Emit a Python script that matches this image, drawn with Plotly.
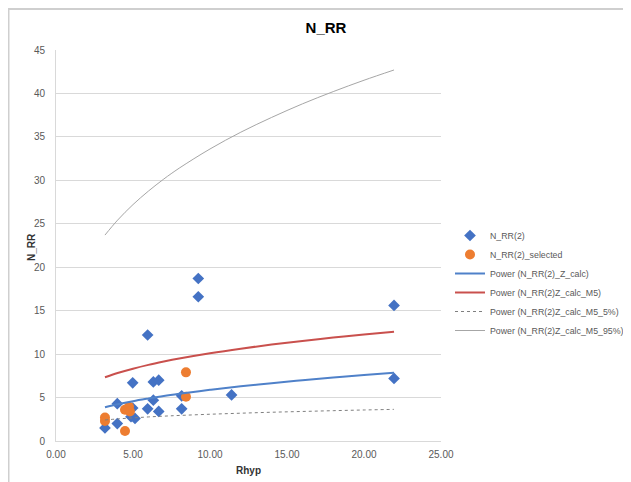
import plotly.graph_objects as go

# Scatter data
rhyp_all = [3.18, 3.98, 3.98, 4.98, 5.95, 4.98, 4.87, 5.13, 5.95, 6.32, 6.32, 6.67, 6.67, 8.16, 8.16, 9.24, 9.24, 11.4, 21.95, 21.95]
nrr_all = [1.5, 2.0, 4.3, 6.7, 12.2, 3.8, 2.8, 2.6, 3.7, 4.7, 6.8, 7.0, 3.4, 3.7, 5.2, 18.7, 16.6, 5.3, 15.6, 7.2]

rhyp_sel = [3.18, 3.18, 4.48, 4.74, 4.8, 4.48, 8.44, 8.44]
nrr_sel = [2.7, 2.3, 3.6, 3.95, 3.4, 1.15, 7.9, 5.1]

# Trend curves
trend_x = [3.18, 4, 5, 6, 7, 8, 10, 12, 14, 16, 18, 20, 21.95]
trend_zcalc = [3.88, 4.22, 4.58, 4.89, 5.18, 5.43, 5.89, 6.30, 6.66, 7.00, 7.30, 7.59, 7.86]
trend_m5 = [7.33, 7.82, 8.32, 8.76, 9.14, 9.49, 10.10, 10.63, 11.10, 11.52, 11.91, 12.27, 12.58]
trend_m5_5 = [2.42, 2.54, 2.66, 2.77, 2.86, 2.94, 3.08, 3.20, 3.31, 3.40, 3.49, 3.57, 3.64]
trend_m5_95 = [23.7, 25.42, 27.21, 28.76, 30.15, 31.40, 33.61, 35.54, 37.24, 38.80, 40.21, 41.52, 42.7]

x_ticks = [0, 5, 10, 15, 20, 25]
x_tick_labels = ["0.00", "5.00", "10.00", "15.00", "20.00", "25.00"]
y_ticks = [0, 5, 10, 15, 20, 25, 30, 35, 40, 45]

FONT = "Liberation Sans, Arial, sans-serif"
TXT = "#595959"

W, H = 623, 474
L, R, T, B = 48, 190, 42, 41
PW, PH = W - L - R, H - T - B


def px(xf):
    return (xf - L) / PW


def py(yf):
    return (H - B - yf) / PH


fig = go.Figure()
fig.add_trace(go.Scatter(x=rhyp_all, y=nrr_all, mode="markers", name="N_RR(2)",
                         marker=dict(symbol="diamond", size=9, color="#4472C4")))
fig.add_trace(go.Scatter(x=rhyp_sel, y=nrr_sel, mode="markers", name="N_RR(2)_selected",
                         marker=dict(symbol="circle", size=10, color="#ED7D31")))
fig.add_trace(go.Scatter(x=trend_x, y=trend_zcalc, mode="lines", name="Power (N_RR(2)_Z_calc)",
                         line=dict(color="#4F81C9", width=2, shape="spline")))
fig.add_trace(go.Scatter(x=trend_x, y=trend_m5, mode="lines", name="Power (N_RR(2)Z_calc_M5)",
                         line=dict(color="#C9504D", width=2, shape="spline")))
fig.add_trace(go.Scatter(x=trend_x, y=trend_m5_5, mode="lines", name="Power (N_RR(2)Z_calc_M5_5%)",
                         line=dict(color="#7f7f7f", width=1, dash="dot", shape="spline")))
fig.add_trace(go.Scatter(x=trend_x, y=trend_m5_95, mode="lines", name="Power (N_RR(2)Z_calc_M5_95%)",
                         line=dict(color="#a6a6a6", width=1, shape="spline")))

fig.update_layout(
    width=W, height=H,
    margin=dict(l=L, r=R, t=T, b=B, pad=0, autoexpand=False),
    paper_bgcolor="white", plot_bgcolor="white",
    font=dict(family=FONT, size=10, color=TXT),
    title=dict(text="<b>N_RR</b>", x=318 / W, xanchor="center", y=1 - 20 / H, yanchor="middle",
               font=dict(family=FONT, size=15, color="#000000")),
    showlegend=True,
    legend=dict(xref="container", yref="container", x=442 / W, y=1 - 213 / H,
                xanchor="left", yanchor="top", bgcolor="rgba(0,0,0,0)",
                font=dict(family=FONT, size=8.8, color=TXT), tracegroupgap=0),
    xaxis=dict(range=[0, 25], tickvals=x_ticks, ticktext=x_tick_labels, showgrid=False,
               showline=True, linecolor="#d9d9d9", linewidth=1, ticks="outside", ticklen=4,
               tickcolor="rgba(0,0,0,0)", zeroline=False, automargin=False,
               tickfont=dict(family=FONT, size=10, color=TXT)),
    yaxis=dict(range=[0, 45], tickvals=y_ticks, showgrid=True, gridcolor="#d9d9d9", gridwidth=1,
               showline=True, linecolor="#d9d9d9", linewidth=1, ticks="outside", ticklen=8,
               tickcolor="rgba(0,0,0,0)", zeroline=False, automargin=False,
               tickfont=dict(family=FONT, size=10, color=TXT)),
)

# axis titles
fig.add_annotation(text="<b>Rhyp</b>", xref="paper", yref="paper", x=px(240), y=py(462),
                   xanchor="center", yanchor="middle", showarrow=False,
                   font=dict(family=FONT, size=10, color="#333333"))
fig.add_annotation(text="<b>N_RR</b>", xref="paper", yref="paper", x=px(23), y=py(239),
                   xanchor="center", yanchor="middle", showarrow=False, textangle=-90,
                   font=dict(family=FONT, size=10, color="#333333"))

# screenshot frame
fig.add_shape(type="line", xref="paper", yref="paper", x0=px(0), x1=px(W),
              y0=py(1), y1=py(1), line=dict(color="#cfcfcf", width=2))
fig.add_shape(type="line", xref="paper", yref="paper", x0=px(0.5), x1=px(0.5),
              y0=py(1), y1=py(H), line=dict(color="#cfcfcf", width=2))

fig.write_html("out.html")
